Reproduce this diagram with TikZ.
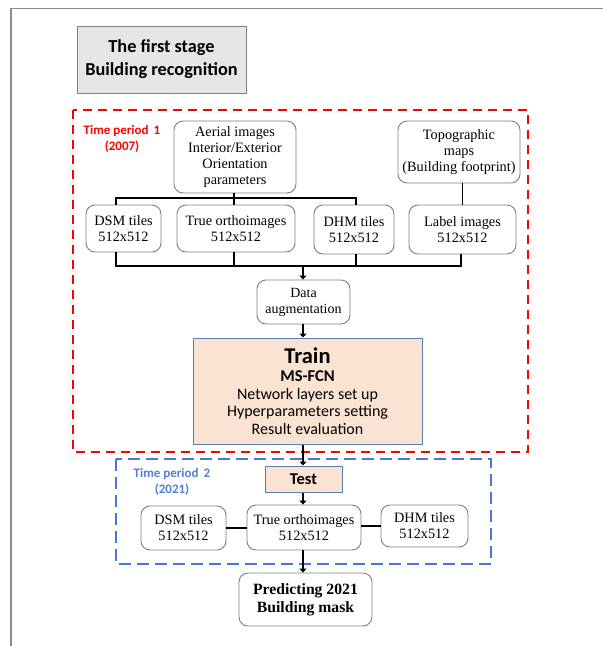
\documentclass[tikz,border=0pt]{standalone}
\usepackage{fontspec}
\setmainfont{Liberation Serif}
\newfontfamily\calfont{Carlito}
\usetikzlibrary{arrows.meta}
\definecolor{frameg}{HTML}{8C8C8C}
\definecolor{boxg}{HTML}{7F7F7F}
\definecolor{titlefill}{HTML}{E6E6E6}
\definecolor{peach}{HTML}{FBE3D4}
\definecolor{trainedge}{HTML}{5B7DB8}
\definecolor{tpblue}{HTML}{4F7FD0}
\definecolor{dashblue}{HTML}{4A78CC}
\tikzset{
  x=1pt, y=-1pt,
  rbox/.style={draw=boxg, line width=0.9pt, rounded corners=9pt, fill=white, inner sep=0pt, align=center,
    font=\fontsize{14.3}{16}\selectfont},
  conn/.style={draw=black, line width=1.6pt},
  thinconn/.style={draw=black, line width=1.1pt},
  arr/.style={draw=black, line width=2.6pt, -{Triangle[width=7pt,length=4pt]}},
  tplabel/.style={align=center, inner sep=0pt, font=\calfont\bfseries\fontsize{13}{16}\selectfont},
}
\begin{document}
\begin{tikzpicture}
\useasboundingbox (0,0) rectangle (603,646);
% frame
\draw[frameg, line width=1.5pt] (11,646) -- (11,8.5) -- (603,8.5);
% title
\node[draw=boxg, fill=titlefill, line width=1pt, minimum width=169pt, minimum height=67pt, inner sep=0pt, align=center,
  font=\calfont\bfseries\fontsize{18.3}{23}\selectfont] (title) at (161.5,59.5) {The first stage\\Building recognition};
% period 1 frame
\draw[red, line width=2pt, dash pattern=on 9pt off 6pt] (73,110) rectangle (528,452);
\node[tplabel, text=red] (tp1) at (122,139) {Time period\, 1\\(2007)};
% top row
\node[rbox, minimum width=122pt, minimum height=72pt] (aerial) at (235,157) {Aerial images\\Interior/Exterior\\Orientation\\parameters};
\node[rbox, minimum width=122pt, minimum height=62pt] (topo) at (459,152) {Topographic\\maps\\(Building footprint)};
% second row
\node[rbox, minimum width=75pt, minimum height=47pt] (dsm1) at (123.5,228.5) {DSM tiles\\512x512};
\node[rbox, minimum width=118pt, minimum height=47pt] (true1) at (236,228.5) {True orthoimages\\512x512};
\node[rbox, minimum width=80pt, minimum height=49pt] (dhm1) at (354,229.5) {DHM tiles\\512x512};
\node[rbox, minimum width=107pt, minimum height=49pt] (label1) at (462.5,229.5) {Label images\\512x512};
% buses
\coordinate (ta) at (234,198);
\coordinate (tl) at (116,198);
\coordinate (tr) at (356,198);
\draw[conn] (aerial.south -| ta) -- (ta);
\draw[conn] (tl |- dsm1.north) -- (tl) -- (tr) -- (tr |- dhm1.north);
\draw[conn] (ta) -- (ta |- true1.north);
\draw[conn] (topo.south -| label1.north) -- (label1.north);
\coordinate (bl) at (116,266);
\coordinate (bm) at (234,266);
\coordinate (bd) at (356,266);
\coordinate (br) at (461,266);
\coordinate (bc) at (303,266);
\draw[conn] (dsm1.south -| bl) -- (bl) -- (br) -- (br |- label1.south);
\draw[conn] (true1.south -| bm) -- (bm);
\draw[conn] (dhm1.south -| bd) -- (bd);
% data augmentation and train
\node[rbox, minimum width=93pt, minimum height=44pt, font=\fontsize{14}{16}\selectfont] (daug) at (303.5,302) {Data\\augmentation};
\node[draw=trainedge, fill=peach, line width=1pt, minimum width=229pt, minimum height=106pt, inner sep=0pt, align=center,
  font=\calfont\fontsize{16}{17.5}\selectfont] (train) at (307.5,391)
  {{\bfseries\fontsize{22.5}{24}\selectfont Train}\\[1pt]{\bfseries\fontsize{16.5}{19}\selectfont MS-FCN}\\Network layers set up\\Hyperparameters setting\\Result evaluation};
\draw[arr] (bc) -- (bc |- daug.north);
\draw[arr] (daug.south -| bc) -- (bc |- train.north);
% period 2 frame
\draw[dashblue, line width=2pt, dash pattern=on 12pt off 6pt] (116,459) rectangle (491,564);
\node[tplabel, text=tpblue] (tp2) at (172,482) {Time period\, 2\\(2021)};
\node[draw=trainedge, fill=peach, line width=1pt, minimum width=77pt, minimum height=26pt, inner sep=0pt,
  font=\calfont\bfseries\fontsize{16.5}{19}\selectfont] (test) at (303.5,479) {Test};
\node[rbox, minimum width=85pt, minimum height=44pt] (dsm2) at (183.5,528) {DSM tiles\\512x512};
\node[rbox, minimum width=114pt, minimum height=45pt] (true2) at (304,527.5) {True orthoimages\\512x512};
\node[rbox, minimum width=87pt, minimum height=42pt] (dhm2) at (424.5,526) {DHM tiles\\512x512};
\draw[thinconn] (dsm2.east) -- (dsm2.east -| true2.west);
\draw[thinconn] (true2.east |- dhm2.west) -- (dhm2.west);
\node[rbox, minimum width=133pt, minimum height=53pt, font=\bfseries\fontsize{15.7}{18}\selectfont] (pred) at (305.5,599.5) {Predicting 2021\\Building mask};
\draw[arr] (train.south -| bc) -- (bc |- test.north);
\draw[arr] (test.south -| bc) -- (bc |- true2.north);
\draw[arr] (true2.south -| bc) -- (bc |- pred.north);
\end{tikzpicture}
\end{document}
